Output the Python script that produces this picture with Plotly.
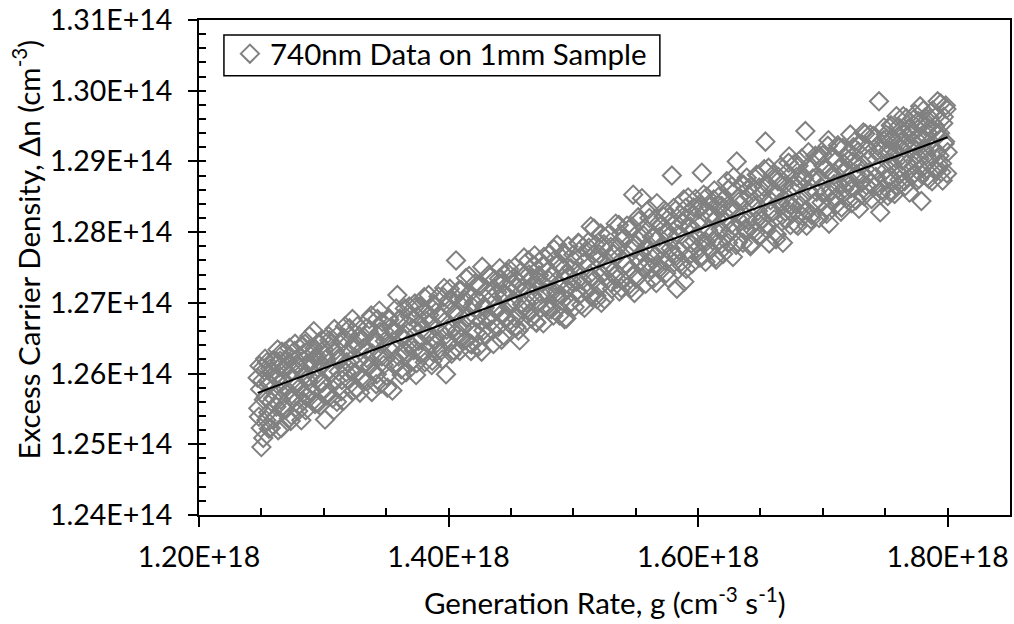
import plotly.graph_objects as go

# ---------------- data ----------------
# generation rate in units of 1e16 cm^-3 s^-1
gen_rate_e16 = [
    124.7, 124.8, 124.9,
    125.0, 125.1, 125.2, 125.3, 125.4, 125.5, 125.6, 125.7, 125.8, 125.9,
    126.0, 126.1, 126.2, 126.3, 126.4, 126.5, 126.6, 126.7, 126.8, 126.9,
    127.0, 127.1, 127.2, 127.3, 127.4, 127.5, 127.6, 127.7, 127.8, 127.9,
    128.0, 128.1, 128.2, 128.3, 128.4, 128.5, 128.6, 128.7, 128.8, 128.9,
    129.0, 129.1, 129.2, 129.3, 129.4, 129.5, 129.6, 129.7, 129.8, 129.9,
    130.0, 130.1, 130.2, 130.3, 130.4, 130.5, 130.6, 130.7, 130.8, 130.9,
    131.0, 131.1, 131.2, 131.3, 131.4, 131.5, 131.6, 131.7, 131.8, 131.9,
    132.0, 132.1, 132.2, 132.3, 132.4, 132.5, 132.6, 132.7, 132.8, 132.9,
    133.0, 133.1, 133.2, 133.3, 133.4, 133.5, 133.6, 133.7, 133.8, 133.9,
    134.0, 134.1, 134.2, 134.3, 134.4, 134.5, 134.6, 134.7, 134.8, 134.9,
    135.0, 135.1, 135.2, 135.3, 135.4, 135.5, 135.6, 135.7, 135.8, 135.9,
    136.0, 136.1, 136.2, 136.3, 136.4, 136.5, 136.6, 136.7, 136.8, 136.9,
    137.0, 137.1, 137.2, 137.3, 137.4, 137.5, 137.6, 137.7, 137.8, 137.9,
    138.0, 138.1, 138.2, 138.3, 138.4, 138.5, 138.6, 138.7, 138.8, 138.9,
    139.0, 139.1, 139.2, 139.3, 139.4, 139.5, 139.6, 139.7, 139.8, 139.9,
    140.0, 140.1, 140.2, 140.3, 140.4, 140.5, 140.6, 140.7, 140.8, 140.9,
    141.0, 141.1, 141.2, 141.3, 141.4, 141.5, 141.6, 141.7, 141.8, 141.9,
    142.0, 142.1, 142.2, 142.3, 142.4, 142.5, 142.6, 142.7, 142.8, 142.9,
    143.0, 143.1, 143.2, 143.3, 143.4, 143.5, 143.6, 143.7, 143.8, 143.9,
    144.0, 144.1, 144.2, 144.3, 144.4, 144.5, 144.6, 144.7, 144.8, 144.9,
    145.0, 145.1, 145.2, 145.3, 145.4, 145.5, 145.6, 145.7, 145.8, 145.9,
    146.0, 146.1, 146.2, 146.3, 146.4, 146.5, 146.6, 146.7, 146.8, 146.9,
    147.0, 147.1, 147.2, 147.3, 147.4, 147.5, 147.6, 147.7, 147.8, 147.9,
    148.0, 148.1, 148.2, 148.3, 148.4, 148.5, 148.6, 148.7, 148.8, 148.9,
    149.0, 149.1, 149.2, 149.3, 149.4, 149.5, 149.6, 149.7, 149.8, 149.9,
    150.0, 150.1, 150.2, 150.3, 150.4, 150.5, 150.6, 150.7, 150.8, 150.9,
    151.0, 151.1, 151.2, 151.3, 151.4, 151.5, 151.6, 151.7, 151.8, 151.9,
    152.0, 152.1, 152.2, 152.3, 152.4, 152.5, 152.6, 152.7, 152.8, 152.9,
    153.0, 153.1, 153.2, 153.3, 153.4, 153.5, 153.6, 153.7, 153.8, 153.9,
    154.0, 154.1, 154.2, 154.3, 154.4, 154.5, 154.6, 154.7, 154.8, 154.9,
    155.0, 155.1, 155.2, 155.3, 155.4, 155.5, 155.6, 155.7, 155.8, 155.9,
    156.0, 156.1, 156.2, 156.3, 156.4, 156.5, 156.6, 156.7, 156.8, 156.9,
    157.0, 157.1, 157.2, 157.3, 157.4, 157.5, 157.6, 157.7, 157.8, 157.9,
    158.0, 158.1, 158.2, 158.3, 158.4, 158.5, 158.6, 158.7, 158.8, 158.9,
    159.0, 159.1, 159.2, 159.3, 159.4, 159.5, 159.6, 159.7, 159.8, 159.9,
    160.0, 160.1, 160.2, 160.3, 160.4, 160.5, 160.6, 160.7, 160.8, 160.9,
    161.0, 161.1, 161.2, 161.3, 161.4, 161.5, 161.6, 161.7, 161.8, 161.9,
    162.0, 162.1, 162.2, 162.3, 162.4, 162.5, 162.6, 162.7, 162.8, 162.9,
    163.0, 163.1, 163.2, 163.3, 163.4, 163.5, 163.6, 163.7, 163.8, 163.9,
    164.0, 164.1, 164.2, 164.3, 164.4, 164.5, 164.6, 164.7, 164.8, 164.9,
    165.0, 165.1, 165.2, 165.3, 165.4, 165.5, 165.6, 165.7, 165.8, 165.9,
    166.0, 166.1, 166.2, 166.3, 166.4, 166.5, 166.6, 166.7, 166.8, 166.9,
    167.0, 167.1, 167.2, 167.3, 167.4, 167.5, 167.6, 167.7, 167.8, 167.9,
    168.0, 168.1, 168.2, 168.3, 168.4, 168.5, 168.6, 168.7, 168.8, 168.9,
    169.0, 169.1, 169.2, 169.3, 169.4, 169.5, 169.6, 169.7, 169.8, 169.9,
    170.0, 170.1, 170.2, 170.3, 170.4, 170.5, 170.6, 170.7, 170.8, 170.9,
    171.0, 171.1, 171.2, 171.3, 171.4, 171.5, 171.6, 171.7, 171.8, 171.9,
    172.0, 172.1, 172.2, 172.3, 172.4, 172.5, 172.6, 172.7, 172.8, 172.9,
    173.0, 173.1, 173.2, 173.3, 173.4, 173.5, 173.6, 173.7, 173.8, 173.9,
    174.0, 174.1, 174.2, 174.3, 174.4, 174.5, 174.6, 174.7, 174.8, 174.9,
    175.0, 175.1, 175.2, 175.3, 175.4, 175.5, 175.6, 175.7, 175.8, 175.9,
    176.0, 176.1, 176.2, 176.3, 176.4, 176.5, 176.6, 176.7, 176.8, 176.9,
    177.0, 177.1, 177.2, 177.3, 177.4, 177.5, 177.6, 177.7, 177.8, 177.9,
    178.0, 178.1, 178.2, 178.3, 178.4, 178.5, 178.6, 178.7, 178.8, 178.9,
    179.0, 179.1, 179.2, 179.3, 179.4, 179.5, 179.6, 179.7, 179.8, 179.9,
    180.0,
    124.75, 124.85, 124.95,
    125.05, 125.15, 125.25, 125.35, 125.45, 125.55, 125.65, 125.75, 125.85, 125.95,
    126.05, 126.15, 126.25, 126.35, 126.45, 126.55, 126.65, 126.75, 126.85, 126.95,
    127.05, 127.15, 127.25, 127.35, 127.45, 127.55, 127.65, 127.75, 127.85, 127.95,
    128.05, 128.15, 128.25, 128.35, 128.45, 128.55, 128.65, 128.75, 128.85, 128.95,
    129.05, 129.15, 129.25, 129.35, 129.45, 129.55, 129.65, 129.75, 129.85, 129.95,
    175.05, 175.15, 175.25, 175.35, 175.45, 175.55, 175.65, 175.75, 175.85, 175.95,
    176.05, 176.15, 176.25, 176.35, 176.45, 176.55, 176.65, 176.75, 176.85, 176.95,
    177.05, 177.15, 177.25, 177.35, 177.45, 177.55, 177.65, 177.75, 177.85, 177.95,
    178.05, 178.15, 178.25, 178.35, 178.45, 178.55, 178.65, 178.75, 178.85, 178.95,
    179.05, 179.15, 179.25, 179.35, 179.45, 179.55, 179.65, 179.75, 179.85, 179.95,
    130.05, 130.25, 130.45, 130.65, 130.85, 131.05, 131.25, 131.45, 131.65, 131.85,
    132.05, 132.25, 132.45, 132.65, 132.85, 133.05, 133.25, 133.45, 133.65, 133.85,
    134.05, 134.25, 134.45, 134.65, 134.85, 135.05, 135.25, 135.45, 135.65, 135.85,
    136.05, 136.25, 136.45, 136.65, 136.85, 137.05, 137.25, 137.45, 137.65, 137.85,
    138.05, 138.25, 138.45, 138.65, 138.85, 139.05, 139.25, 139.45, 139.65, 139.85,
    140.05, 140.25, 140.45, 140.65, 140.85, 141.05, 141.25, 141.45, 141.65, 141.85,
    142.05, 142.25, 142.45, 142.65, 142.85, 143.05, 143.25, 143.45, 143.65, 143.85,
    144.05, 144.25, 144.45, 144.65, 144.85, 145.05, 145.25, 145.45, 145.65, 145.85,
    146.05, 146.25, 146.45, 146.65, 146.85, 147.05, 147.25, 147.45, 147.65, 147.85,
    148.05, 148.25, 148.45, 148.65, 148.85, 149.05, 149.25, 149.45, 149.65, 149.85,
    150.05, 150.25, 150.45, 150.65, 150.85, 151.05, 151.25, 151.45, 151.65, 151.85,
    152.05, 152.25, 152.45, 152.65, 152.85, 153.05, 153.25, 153.45, 153.65, 153.85,
    154.05, 154.25, 154.45, 154.65, 154.85, 155.05, 155.25, 155.45, 155.65, 155.85,
    156.05, 156.25, 156.45, 156.65, 156.85, 157.05, 157.25, 157.45, 157.65, 157.85,
    158.05, 158.25, 158.45, 158.65, 158.85, 159.05, 159.25, 159.45, 159.65, 159.85,
    160.05, 160.25, 160.45, 160.65, 160.85, 161.05, 161.25, 161.45, 161.65, 161.85,
    162.05, 162.25, 162.45, 162.65, 162.85, 163.05, 163.25, 163.45, 163.65, 163.85,
    164.05, 164.25, 164.45, 164.65, 164.85, 165.05, 165.25, 165.45, 165.65, 165.85,
    166.05, 166.25, 166.45, 166.65, 166.85, 167.05, 167.25, 167.45, 167.65, 167.85,
    168.05, 168.25, 168.45, 168.65, 168.85, 169.05, 169.25, 169.45, 169.65, 169.85,
    170.05, 170.25, 170.45, 170.65, 170.85, 171.05, 171.25, 171.45, 171.65, 171.85,
    172.05, 172.25, 172.45, 172.65, 172.85, 173.05, 173.25, 173.45, 173.65, 173.85,
    174.05, 174.25, 174.45, 174.65, 174.85,
]

# excess carrier density in units of 1e12 cm^-3 (same order as above)
carrier_e12 = [
    125.94, 125.39, 125.78,
    124.96, 126.08, 125.63, 126.21, 125.34, 125.89, 125.22, 126.07, 125.60, 126.18,
    125.35, 125.96, 125.53, 126.34, 125.76, 126.18, 125.23, 125.89, 125.50, 126.31,
    125.73, 126.12, 125.36, 126.24, 125.41, 126.04, 125.68, 126.42, 125.84, 126.11,
    125.55, 126.24, 125.34, 126.02, 125.73, 126.42, 125.67, 126.15, 125.95, 126.35,
    125.73, 126.11, 126.60, 125.57, 126.22, 125.93, 126.44, 125.55, 126.10, 125.87,
    126.34, 125.35, 126.21, 125.73, 126.53, 126.05, 126.43, 125.65, 125.48, 126.32,
    125.90, 126.54, 126.03, 126.20, 125.75, 126.44, 125.62, 126.67, 126.02, 126.31,
    125.91, 126.54, 126.19, 126.77, 125.76, 126.43, 126.00, 126.67, 126.18, 125.73,
    126.49, 125.91, 126.36, 126.13, 126.64, 125.89, 126.60, 126.11, 126.82, 126.28,
    126.02, 126.49, 125.85, 126.77, 126.24, 126.59, 125.86, 126.73, 126.12, 126.46,
    126.22, 125.80, 126.79, 126.34, 126.66, 125.76, 126.58, 126.11, 126.92, 127.11,
    126.24, 126.78, 126.06, 126.50, 126.32, 126.92, 126.02, 126.70, 126.43, 126.81,
    126.16, 126.64, 126.33, 126.99, 125.98, 126.81, 126.46, 126.95, 126.27, 126.63,
    126.87, 126.16, 126.74, 126.57, 127.11, 126.39, 126.73, 126.18, 126.98, 126.49,
    126.87, 126.32, 127.09, 126.59, 126.79, 126.20, 127.08, 126.53, 125.99, 126.97,
    126.45, 127.20, 126.62, 126.89, 126.33, 127.08, 127.60, 126.55, 126.83, 126.32,
    127.18, 126.66, 127.01, 126.47, 127.35, 126.80, 127.12, 126.43, 126.32, 126.95,
    126.61, 127.27, 126.79, 127.05, 126.38, 127.23, 126.74, 127.51, 126.61, 126.93,
    126.54, 127.17, 126.81, 127.37, 126.72, 127.07, 126.42, 127.33, 126.94, 127.15,
    126.66, 127.49, 126.84, 127.27, 126.54, 127.10, 126.80, 127.43, 126.95, 127.18,
    126.69, 127.28, 127.04, 127.51, 126.78, 127.22, 126.61, 126.47, 127.44, 126.98,
    127.38, 126.71, 127.19, 126.92, 127.60, 126.86, 127.34, 127.11, 127.53, 127.67,
    126.73, 127.32, 127.01, 127.59, 126.92, 127.28, 126.71, 127.53, 127.14, 127.44,
    126.90, 127.69, 127.17, 127.40, 126.82, 127.61, 127.08, 127.82, 127.27, 126.82,
    127.51, 127.03, 127.69, 126.77, 127.40, 127.21, 127.80, 126.99, 127.49, 127.30,
    127.68, 126.94, 127.43, 127.17, 127.85, 127.11, 127.66, 127.32, 127.79, 126.93,
    127.59, 127.19, 127.86, 127.40, 128.08, 127.10, 127.68, 127.33, 127.82, 127.05,
    127.61, 127.22, 127.98, 127.40, 127.77, 127.05, 127.60, 127.33, 127.96, 127.49,
    127.79, 127.20, 127.69, 127.39, 128.12, 127.34, 127.79, 127.16, 127.97, 127.61,
    127.32, 127.92, 127.55, 128.09, 127.24, 127.77, 127.47, 128.08, 128.53, 127.14,
    127.83, 127.35, 128.21, 127.57, 127.93, 128.48, 127.49, 128.06, 127.27, 127.80,
    127.58, 128.20, 127.71, 127.93, 127.34, 128.18, 127.67, 128.41, 127.52, 127.93,
    127.45, 128.10, 127.80, 128.31, 127.59, 128.02, 127.35, 128.21, 127.77, 128.80,
    128.11, 127.57, 128.31, 127.20, 127.97, 127.74, 128.25, 127.53, 128.13, 127.30,
    128.34, 127.88, 128.49, 127.67, 128.08, 127.55, 128.26, 127.87, 128.47, 127.76,
    128.12, 127.64, 128.37, 128.84, 127.86, 128.28, 127.58, 128.50, 128.03, 128.36,
    127.75, 128.24, 127.88, 128.59, 127.65, 128.20, 127.86, 128.51, 128.04, 128.37,
    127.69, 128.47, 128.14, 128.72, 127.85, 128.34, 128.02, 128.65, 127.65, 128.29,
    128.08, 129.00, 127.86, 128.49, 128.15, 128.68, 127.85, 128.45, 128.05, 128.77,
    128.17, 128.51, 127.80, 128.65, 128.03, 128.44, 127.99, 128.81, 128.30, 128.63,
    127.95, 128.54, 128.18, 128.89, 129.28, 128.11, 128.66, 127.84, 128.45, 128.28,
    128.81, 128.18, 128.55, 127.97, 128.72, 128.41, 128.92, 128.15, 127.85, 128.66,
    128.29, 128.84, 128.40, 129.07, 128.10, 128.61, 128.27, 128.96, 128.40, 128.78,
    128.09, 128.66, 128.38, 129.04, 128.22, 128.76, 129.43, 128.09, 128.92, 128.58,
    128.89, 128.24, 128.76, 128.41, 129.08, 128.57, 129.04, 128.20, 128.76, 128.42,
    129.09, 128.55, 128.89, 128.26, 129.22, 128.12, 128.85, 128.44, 129.07, 128.68,
    129.00, 128.39, 129.23, 128.67, 128.91, 128.35, 129.19, 128.61, 128.86, 128.48,
    129.11, 128.70, 129.38, 128.41, 129.00, 128.62, 129.29, 128.82, 128.97, 128.33,
    129.24, 128.70, 128.96, 128.51, 129.39, 128.66, 129.16, 128.84, 129.38, 128.47,
    129.08, 128.64, 129.34, 128.89, 129.22, 129.85, 128.28, 129.16, 128.60, 129.48,
    128.87, 129.32, 128.51, 129.11, 128.79, 129.50, 128.72, 129.28, 129.05, 129.64,
    128.65, 129.20, 128.82, 129.45, 129.01, 129.38, 128.65, 129.61, 128.97, 129.19,
    129.47, 128.79, 129.29, 128.94, 129.67, 129.16, 129.46, 128.75, 129.78, 128.44,
    129.31, 128.93, 129.62, 129.09, 129.41, 128.75, 129.61, 129.20, 129.72, 128.89,
    129.50, 129.12, 129.85, 128.95, 129.40, 128.85, 128.73, 129.63, 129.28, 129.74,
    129.13,
    125.51, 126.11, 125.23,
    125.90, 125.09, 126.04, 125.67, 126.16, 125.45, 125.85, 125.23, 126.02, 125.65,
    126.18, 125.39, 125.92, 125.20, 126.09, 125.63, 126.31, 125.82, 126.05, 125.49,
    126.19, 125.75, 126.36, 125.33, 125.95, 125.64, 126.32, 125.84, 126.14, 125.47,
    126.08, 125.75, 126.40, 125.61, 125.97, 125.48, 126.30, 125.89, 126.53, 125.73,
    126.18, 125.61, 126.36, 125.97, 126.25, 125.58, 126.17, 125.87, 126.48, 125.75,
    129.38, 128.74, 129.16, 128.57, 129.51, 128.97, 129.32, 128.54, 129.13, 128.86,
    129.49, 128.74, 129.28, 129.02, 129.64, 128.72, 129.26, 128.90, 129.47, 128.56,
    129.38, 129.04, 129.59, 128.83, 129.23, 128.73, 129.57, 129.04, 129.35, 128.81,
    129.72, 129.16, 129.49, 128.78, 129.25, 129.02, 129.69, 128.72, 129.45, 129.15,
    129.63, 128.87, 129.38, 129.08, 129.82, 128.97, 129.54, 129.25, 129.79, 128.83,
    126.27, 125.69, 126.47, 126.01, 126.63, 125.60, 126.23, 125.91, 126.50, 126.16,
    126.64, 126.03, 126.38, 125.79, 126.53, 125.95, 126.51, 126.22, 126.77, 125.74,
    126.45, 125.99, 126.89, 126.24, 126.60, 125.97, 126.76, 126.41, 126.61, 126.14,
    126.76, 125.98, 126.56, 126.30, 126.95, 126.40, 126.93, 126.15, 126.70, 126.30,
    127.08, 126.54, 126.83, 126.12, 126.98, 126.43, 126.83, 126.33, 127.21, 126.62,
    127.04, 126.28, 126.85, 126.60, 127.18, 126.49, 127.05, 126.78, 127.38, 126.41,
    127.00, 126.58, 127.26, 126.31, 126.96, 126.77, 127.40, 126.62, 127.20, 126.89,
    127.34, 126.48, 127.13, 126.78, 127.48, 127.01, 127.36, 126.66, 127.28, 126.91,
    127.64, 127.00, 127.40, 126.78, 127.25, 126.72, 127.39, 127.12, 127.65, 126.94,
    127.32, 126.91, 127.76, 127.14, 127.57, 127.10, 127.71, 126.78, 127.39, 127.01,
    127.60, 127.30, 127.84, 126.97, 127.57, 127.19, 127.78, 127.34, 128.05, 127.10,
    127.69, 127.00, 127.83, 127.52, 127.97, 127.28, 127.69, 127.41, 128.10, 127.21,
    127.91, 127.54, 128.04, 127.21, 127.77, 127.34, 128.16, 127.70, 127.95, 127.52,
    128.32, 127.49, 127.93, 127.28, 128.13, 127.76, 128.22, 127.42, 127.94, 127.70,
    128.34, 127.66, 128.09, 127.58, 128.46, 127.48, 128.07, 127.84, 128.35, 127.95,
    128.32, 127.64, 128.53, 127.86, 128.22, 127.96, 128.46, 127.61, 128.37, 127.83,
    128.26, 127.94, 128.61, 128.11, 128.78, 127.82, 128.43, 128.21, 128.67, 128.02,
    128.62, 127.83, 128.37, 128.16, 128.80, 128.17, 128.64, 128.05, 128.91, 128.32,
    128.58, 127.90, 128.78, 128.41, 128.71, 128.18, 128.98, 128.39, 128.65, 128.11,
    128.94, 128.49, 128.79, 128.31, 129.13, 128.18, 128.75, 128.44, 129.08, 128.64,
    128.94, 128.33, 129.30, 128.59, 128.80, 128.49, 129.20, 128.29, 128.97, 128.69,
    129.02, 128.62, 129.20, 128.45, 129.14, 128.83, 129.41, 128.59, 129.03, 128.69,
    129.36, 128.78, 129.11, 128.53, 129.30,
]

# linear trendline end points
trend_x_e16 = [124.7, 180.0]
trend_y_e12 = [125.727, 129.342]

series_name = "740nm Data on 1mm Sample"
x_tick_vals = [1.2e18, 1.4e18, 1.6e18, 1.8e18]
x_tick_text = ["1.20E+18", "1.40E+18", "1.60E+18", "1.80E+18"]
y_tick_vals = [1.24e14, 1.25e14, 1.26e14, 1.27e14, 1.28e14, 1.29e14, 1.30e14, 1.31e14]
y_tick_text = ["1.24E+14", "1.25E+14", "1.26E+14", "1.27E+14",
               "1.28E+14", "1.29E+14", "1.30E+14", "1.31E+14"]
x_range = [1.2e18, 1.85e18]
y_range = [1.24e14, 1.31e14]

# ---------------- figure ----------------
FONT = "Lato, 'Noto Sans', sans-serif"
FS = 29.5        # titles and legend
FS_TICK = 28.5   # tick labels

gx = [v * 1e16 for v in gen_rate_e16]
dn = [v * 1e12 for v in carrier_e12]

fig = go.Figure()
fig.add_trace(go.Scatter(
    x=gx, y=dn, mode="markers", name=series_name,
    marker=dict(symbol="diamond-open", size=14, color="#808080",
                line=dict(width=2, color="#808080")),
    hoverinfo="skip",
))
fig.add_trace(go.Scatter(
    x=[v * 1e16 for v in trend_x_e16], y=[v * 1e12 for v in trend_y_e12],
    mode="lines", line=dict(color="black", width=2), showlegend=False,
    hoverinfo="skip",
))
# dummy traces so that the overlay axes (inside ticks) get drawn
fig.add_trace(go.Scatter(x=[None], y=[None], xaxis="x2", yaxis="y",
                         showlegend=False, hoverinfo="skip"))
fig.add_trace(go.Scatter(x=[None], y=[None], xaxis="x", yaxis="y2",
                         showlegend=False, hoverinfo="skip"))

L, R, T, B = 199, 2, 18, 109
W, H = 1014, 624
pw, ph = W - L - R, H - T - B

def px_to_paper_x(px):
    return (px - L) / pw

def px_to_paper_y(py):
    return (H - B - py) / ph

axis_common = dict(showgrid=False, zeroline=False, linecolor="black",
                   linewidth=2, tickcolor="black", tickwidth=2,
                   ticklabeloverflow="allow")

fig.update_layout(
    width=W, height=H,
    margin=dict(l=L, r=R, t=T, b=B, pad=0),
    paper_bgcolor="white", plot_bgcolor="white",
    font=dict(family=FONT, size=FS, color="black"),
    xaxis=dict(range=x_range, tickmode="array", tickvals=x_tick_vals,
               ticktext=x_tick_text, ticks="outside", ticklen=10,
               showline=True, mirror=True, ticklabelstandoff=6,
               tickfont=dict(family=FONT, size=FS_TICK, color="black"),
               **axis_common),
    yaxis=dict(range=y_range, tickmode="array", tickvals=y_tick_vals,
               ticktext=y_tick_text, ticks="outside", ticklen=9,
               showline=True, mirror=True, ticklabelstandoff=10,
               tickfont=dict(family=FONT, size=FS_TICK, color="black"),
               **axis_common),
    xaxis2=dict(range=x_range, overlaying="x", anchor="y", side="bottom",
                tickmode="linear", tick0=1.2e18, dtick=0.05e18,
                ticks="inside", ticklen=7, showticklabels=False,
                showline=False, showgrid=False, zeroline=False,
                tickcolor="black", tickwidth=2),
    yaxis2=dict(range=y_range, overlaying="y", anchor="x", side="left",
                tickmode="linear", tick0=1.24e14, dtick=0.002e14,
                ticks="inside", ticklen=7, showticklabels=False,
                showline=False, showgrid=False, zeroline=False,
                tickcolor="black", tickwidth=2),
    legend=dict(x=px_to_paper_x(230), y=px_to_paper_y(26),
                xanchor="left", yanchor="top",
                bgcolor="rgba(0,0,0,0)", borderwidth=0,
                font=dict(family=FONT, size=FS, color="black")),
    showlegend=True,
    shapes=[
        dict(type="rect", xref="paper", yref="paper",
             x0=px_to_paper_x(224), x1=px_to_paper_x(661),
             y0=px_to_paper_y(74), y1=px_to_paper_y(33),
             line=dict(color="black", width=1.5), fillcolor="white",
             layer="below"),
    ],
    annotations=[
        dict(text="Generation Rate, g (cm<sup>-3</sup> s<sup>-1</sup>)",
             xref="paper", yref="paper",
             x=px_to_paper_x(605.5), y=px_to_paper_y(601),
             xanchor="center", yanchor="middle", showarrow=False,
             font=dict(family=FONT, size=FS, color="black")),
        dict(text="Excess Carrier Density, \u0394n (cm<sup>-3</sup>)",
             xref="paper", yref="paper",
             x=px_to_paper_x(26), y=px_to_paper_y(248),
             xanchor="center", yanchor="middle", textangle=-90,
             showarrow=False,
             font=dict(family=FONT, size=FS, color="black")),
    ],
)

fig.write_html("out.html")
